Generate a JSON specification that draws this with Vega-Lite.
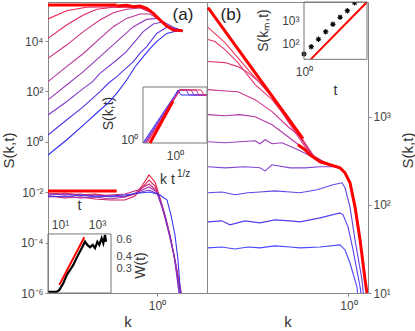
{
  "$schema": "https://vega.github.io/schema/vega-lite/v6.json",
  "padding": {"left": 0, "top": -3, "right": 0, "bottom": 0},
  "background": "white",
  "config": {
    "view": {"stroke": "#888", "strokeWidth": 1},
    "axis": {"labelFont": "Liberation Sans", "titleFont": "Liberation Sans", "labelFontSize": 12, "titleFontSize": 15, "titleFontWeight": "normal", "labelColor": "#444", "titleColor": "#333", "domainColor": "#888", "tickColor": "#888", "grid": false, "labelOverlap": false},
    "text": {"font": "Liberation Sans", "color": "#333"}
  },
  "spacing": 0,
  "bounds": "flush",
  "hconcat": [
    {
      "width": 159,
      "height": 291,
      "layer": [
        {
          "layer": [
            {
              "data": {"values": [
                {"c":"u2","k":0.1,"S":7.5e4},{"c":"u2","k":0.148,"S":1.6e5},{"c":"u2","k":0.226,"S":2.17e5},{"c":"u2","k":0.427,"S":2.3e5},{"c":"u2","k":0.748,"S":2.17e5},{"c":"u2","k":0.925,"S":1.25e5},{"c":"u2","k":1.227,"S":3.9e4},{"c":"u2","k":1.72,"S":2.57e4},
                {"c":"u3","k":0.1,"S":1.28e4},{"c":"u3","k":0.148,"S":4.3e4},{"c":"u3","k":0.211,"S":1.08e5},{"c":"u3","k":0.28,"S":1.81e5},{"c":"u3","k":0.397,"S":2.17e5},{"c":"u3","k":0.698,"S":2.2e5},{"c":"u3","k":0.925,"S":1.25e5},{"c":"u3","k":1.227,"S":3.9e4},{"c":"u3","k":1.72,"S":2.57e4},
                {"c":"u4","k":0.1,"S":2050},{"c":"u4","k":0.148,"S":6900},{"c":"u4","k":0.211,"S":2.35e4},{"c":"u4","k":0.3,"S":6.8e4},{"c":"u4","k":0.397,"S":1.33e5},{"c":"u4","k":0.527,"S":1.81e5},{"c":"u4","k":0.698,"S":2.04e5},{"c":"u4","k":0.925,"S":1.25e5},{"c":"u4","k":1.227,"S":3.9e4},{"c":"u4","k":1.72,"S":2.57e4},
                {"c":"u5","k":0.1,"S":243},{"c":"u5","k":0.148,"S":957},{"c":"u5","k":0.211,"S":3200},{"c":"u5","k":0.3,"S":1.28e4},{"c":"u5","k":0.397,"S":3.7e4},{"c":"u5","k":0.527,"S":7.9e4},{"c":"u5","k":0.698,"S":1.18e5},{"c":"u5","k":0.863,"S":1.18e5},{"c":"u5","k":1.066,"S":6.8e4},{"c":"u5","k":1.227,"S":3.9e4},{"c":"u5","k":1.72,"S":2.57e4},
                {"c":"u6","k":0.1,"S":46},{"c":"u6","k":0.148,"S":179},{"c":"u6","k":0.211,"S":607},{"c":"u6","k":0.3,"S":2400},{"c":"u6","k":0.427,"S":9400},{"c":"u6","k":0.607,"S":3.7e4},{"c":"u6","k":0.804,"S":7.2e4},{"c":"u6","k":0.993,"S":7.9e4},{"c":"u6","k":1.227,"S":4.3e4},{"c":"u6","k":1.413,"S":2.9e4},{"c":"u6","k":1.72,"S":2.57e4},
                {"c":"u7","k":0.1,"S":11.6},{"c":"u7","k":0.148,"S":39},{"c":"u7","k":0.211,"S":132},{"c":"u7","k":0.255,"S":240},{"c":"u7","k":0.3,"S":521},{"c":"u7","k":0.427,"S":1760},{"c":"u7","k":0.52,"S":3700},{"c":"u7","k":0.607,"S":8100},{"c":"u7","k":0.748,"S":2.35e4},{"c":"u7","k":0.925,"S":4.7e4},{"c":"u7","k":1.143,"S":5.8e4},{"c":"u7","k":1.413,"S":3.5e4},{"c":"u7","k":1.72,"S":2.57e4},
                {"c":"u8","k":0.1,"S":1.86},{"c":"u8","k":0.148,"S":7.3},{"c":"u8","k":0.211,"S":25},{"c":"u8","k":0.3,"S":98},{"c":"u8","k":0.36,"S":215},{"c":"u8","k":0.427,"S":385},{"c":"u8","k":0.607,"S":1510},{"c":"u8","k":0.7,"S":3300},{"c":"u8","k":0.804,"S":6000},{"c":"u8","k":0.993,"S":2.0e4},{"c":"u8","k":1.227,"S":3.5e4},{"c":"u8","k":1.514,"S":2.9e4},{"c":"u8","k":1.72,"S":2.57e4},
                {"c":"u9","k":0.1,"S":0.3},{"c":"u9","k":0.148,"S":1.18},{"c":"u9","k":0.211,"S":4.6},{"c":"u9","k":0.3,"S":18.3},{"c":"u9","k":0.36,"S":36},{"c":"u9","k":0.427,"S":84},{"c":"u9","k":0.527,"S":283},{"c":"u9","k":0.63,"S":950},{"c":"u9","k":0.748,"S":2400},{"c":"u9","k":0.87,"S":5200},{"c":"u9","k":0.993,"S":9400},{"c":"u9","k":1.227,"S":2.0e4},{"c":"u9","k":1.514,"S":2.5e4},{"c":"u9","k":1.72,"S":2.57e4},
                {"c":"l1","k":0.1,"S":0.00849},{"c":"l1","k":0.143,"S":0.00929},{"c":"l1","k":0.197,"S":0.00774},{"c":"l1","k":0.27,"S":0.00849},{"c":"l1","k":0.371,"S":0.00706},{"c":"l1","k":0.508,"S":0.00646},{"c":"l1","k":0.628,"S":0.00849},{"c":"l1","k":0.728,"S":0.0176},{"c":"l1","k":0.845,"S":0.0482},{"c":"l1","k":0.959,"S":0.0254},{"c":"l1","k":1.066,"S":0.00589},{"c":"l1","k":1.184,"S":0.00124},{"c":"l1","k":1.315,"S":0.0002},{"c":"l1","k":1.462,"S":1.7e-5},{"c":"l1","k":1.694,"S":5.3e-7},
                {"c":"l2","k":0.1,"S":0.00706},{"c":"l2","k":0.143,"S":0.00589},{"c":"l2","k":0.197,"S":0.00646},{"c":"l2","k":0.27,"S":0.00537},{"c":"l2","k":0.371,"S":0.0049},{"c":"l2","k":0.508,"S":0.0049},{"c":"l2","k":0.628,"S":0.00706},{"c":"l2","k":0.744,"S":0.0161},{"c":"l2","k":0.845,"S":0.0305},{"c":"l2","k":0.959,"S":0.0176},{"c":"l2","k":1.089,"S":0.00372},{"c":"l2","k":1.21,"S":0.000789},{"c":"l2","k":1.343,"S":0.000127},{"c":"l2","k":1.493,"S":1.29e-5},{"c":"l2","k":1.694,"S":5.3e-7},
                {"c":"l3","k":0.1,"S":0.00929},{"c":"l3","k":0.143,"S":0.00774},{"c":"l3","k":0.197,"S":0.00849},{"c":"l3","k":0.27,"S":0.00706},{"c":"l3","k":0.371,"S":0.00774},{"c":"l3","k":0.508,"S":0.00849},{"c":"l3","k":0.67,"S":0.0122},{"c":"l3","k":0.845,"S":0.0211},{"c":"l3","k":0.979,"S":0.0122},{"c":"l3","k":1.112,"S":0.00259},{"c":"l3","k":1.262,"S":0.000379},{"c":"l3","k":1.403,"S":5.08e-5},{"c":"l3","k":1.558,"S":5.18e-6},{"c":"l3","k":1.72,"S":5.3e-7},
                {"c":"l4","k":0.1,"S":0.00646},{"c":"l4","k":0.143,"S":0.00706},{"c":"l4","k":0.197,"S":0.00589},{"c":"l4","k":0.27,"S":0.00646},{"c":"l4","k":0.371,"S":0.00537},{"c":"l4","k":0.508,"S":0.00646},{"c":"l4","k":0.67,"S":0.0102},{"c":"l4","k":0.845,"S":0.0161},{"c":"l4","k":1.0,"S":0.0102},{"c":"l4","k":1.135,"S":0.00197},{"c":"l4","k":1.262,"S":0.000316},{"c":"l4","k":1.432,"S":3.22e-5},{"c":"l4","k":1.626,"S":5.3e-7},
                {"c":"l5","k":0.1,"S":0.00774},{"c":"l5","k":0.143,"S":0.00849},{"c":"l5","k":0.197,"S":0.00706},{"c":"l5","k":0.27,"S":0.00774},{"c":"l5","k":0.371,"S":0.00646},{"c":"l5","k":0.508,"S":0.00706},{"c":"l5","k":0.67,"S":0.00929},{"c":"l5","k":0.845,"S":0.0122},{"c":"l5","k":1.021,"S":0.00849},{"c":"l5","k":1.159,"S":0.00164},{"c":"l5","k":1.288,"S":0.000264},{"c":"l5","k":1.462,"S":2.04e-5},{"c":"l5","k":1.626,"S":5.3e-7},
                {"c":"l6","k":0.1,"S":0.00706},{"c":"l6","k":0.143,"S":0.00646},{"c":"l6","k":0.197,"S":0.00774},{"c":"l6","k":0.27,"S":0.00646},{"c":"l6","k":0.371,"S":0.00706},{"c":"l6","k":0.508,"S":0.00774},{"c":"l6","k":0.698,"S":0.00929},{"c":"l6","k":0.863,"S":0.0102},{"c":"l6","k":1.066,"S":0.00774},{"c":"l6","k":1.236,"S":0.0049},{"c":"l6","k":1.343,"S":0.00124},{"c":"l6","k":1.462,"S":0.0002},{"c":"l6","k":1.558,"S":2.04e-5},{"c":"l6","k":1.66,"S":5.3e-7}
              ]},
              "mark": {"type": "line", "strokeWidth": 1.1, "clip": true},
              "encoding": {
                "x": {"field": "k", "type": "quantitative", "scale": {"type": "log", "domain": [0.1, 2.875], "nice": false}, "axis": {"values": [1], "labelExpr": "'10⁰'", "title": "k", "tickSize": 3, "labelPadding": 4, "titlePadding": 3}},
                "y": {"field": "S", "type": "quantitative", "scale": {"type": "log", "domain": [1e-6, 3.53e5], "nice": false}, "axis": {"values": [1e-6, 1e-4, 0.01, 1, 100, 10000], "labelExpr": "datum.value < 1e-5 ? '10⁻⁶' : datum.value < 1e-3 ? '10⁻⁴' : datum.value < 0.1 ? '10⁻²' : datum.value < 10 ? '10⁰' : datum.value < 1000 ? '10²' : '10⁴'", "title": "S(k,t)", "tickSize": 3, "labelPadding": 2, "titleX": -40, "titleY": 148, "titleBaseline": "middle", "titleAlign": "center", "titleAngle": 270}},
                "color": {"field": "c", "type": "nominal", "legend": null, "scale": {"domain": ["u2","u3","u4","u5","u6","u7","u8","u9","l1","l2","l3","l4","l5","l6"], "range": ["#f22050","#e02868","#cc3080","#b43898","#9a3cb4","#7c3ccc","#5a34e4","#2f2cfa","#ec1838","#d8205c","#c42a80","#a432a8","#7836d0","#3c34f2"]}}
              }
            },
            {
              "data": {"values": [
                {"c":"refTop","k":0.1,"S":2.69e5},{"c":"refTop","k":0.427,"S":2.69e5},
                {"c":"refLow","k":0.1,"S":0.0112},{"c":"refLow","k":0.427,"S":0.0112},
                {"c":"hump","k":0.427,"S":2.45e5},{"c":"hump","k":0.527,"S":2.6e5},{"c":"hump","k":0.607,"S":2.3e5},{"c":"hump","k":0.698,"S":2.45e5},{"c":"hump","k":0.804,"S":1.98e5},{"c":"hump","k":0.925,"S":1.25e5},{"c":"hump","k":1.066,"S":6.8e4},{"c":"hump","k":1.227,"S":3.9e4},{"c":"hump","k":1.413,"S":2.7e4},{"c":"hump","k":1.72,"S":2.57e4}
              ]},
              "mark": {"type": "line", "color": "#ff0000", "strokeWidth": 3, "clip": true},
              "encoding": {"x": {"field": "k", "type": "quantitative"}, "y": {"field": "S", "type": "quantitative"}, "detail": {"field": "c", "type": "nominal"}}
            },
            {
              "data": {"values": [{}]},
              "mark": {"type": "text", "text": "(a)", "fontSize": 17, "color": "#222"},
              "encoding": {"x": {"datum": 1.73, "type": "quantitative"}, "y": {"datum": 1.07e5, "type": "quantitative"}}
            }
          ]
        },
        {
          "layer": [
            {
              "data": {"values": [
                {"c":"i0","k":0.316,"S":0.781},{"c":"i0","k":1.0,"S":40.5},{"c":"i0","k":1.114,"S":61.1},{"c":"i0","k":1.241,"S":40.5},{"c":"i0","k":3.162,"S":40.5},
                {"c":"i1","k":0.328,"S":0.781},{"c":"i1","k":1.036,"S":40.5},{"c":"i1","k":1.155,"S":61.1},{"c":"i1","k":1.485,"S":61.1},{"c":"i1","k":1.655,"S":40.5},{"c":"i1","k":3.162,"S":40.5},
                {"c":"i2","k":0.34,"S":0.781},{"c":"i2","k":1.036,"S":40.5},{"c":"i2","k":1.155,"S":61.1},{"c":"i2","k":1.778,"S":61.1},{"c":"i2","k":1.982,"S":40.5},{"c":"i2","k":3.162,"S":40.5},
                {"c":"i3","k":0.352,"S":0.781},{"c":"i3","k":1.074,"S":40.5},{"c":"i3","k":1.197,"S":61.1},{"c":"i3","k":2.129,"S":61.1},{"c":"i3","k":2.371,"S":40.5},{"c":"i3","k":3.162,"S":40.5},
                {"c":"i4","k":0.365,"S":0.781},{"c":"i4","k":1.074,"S":40.5},{"c":"i4","k":1.197,"S":61.1},{"c":"i4","k":2.548,"S":61.1},{"c":"i4","k":2.84,"S":40.5},{"c":"i4","k":3.162,"S":40.5}
              ]},
              "mark": {"type": "line", "strokeWidth": 1, "clip": true},
              "encoding": {
                "x": {"field": "k", "type": "quantitative", "scale": {"type": "log", "domain": [0.01037, 3.162], "nice": false}, "axis": {"orient": "bottom", "offset": -150, "values": [1], "labelExpr": "'10⁰'", "ticks": false, "domain": false, "labelPadding": 7, "title": "k t", "titleX": 119, "titleY": 36, "titleBaseline": "middle", "titleAlign": "center", "titleFontSize": 14}},
                "y": {"field": "S", "type": "quantitative", "scale": {"type": "log", "domain": [3.43e-6, 84900], "nice": false}, "axis": {"orient": "left", "offset": -95, "values": [1], "labelExpr": "'10⁰'", "ticks": false, "domain": false, "labelPadding": 5, "title": "S(k,t)", "titleX": -35, "titleY": 111, "titleBaseline": "middle", "titleAlign": "center", "titleAngle": 270, "titleFontSize": 14}},
                "color": {"field": "c", "type": "nominal", "legend": null, "scale": {"domain": ["i0","i1","i2","i3","i4"], "range": ["#3030ff","#6434e0","#9034c0","#bc3096","#e82858"]}}
              }
            },
            {
              "data": {"values": [{}]},
              "mark": {"type": "rect", "filled": false, "stroke": "#777", "strokeWidth": 1},
              "encoding": {"x": {"datum": 0.316, "type": "quantitative"}, "x2": {"datum": 3.162}, "y": {"datum": 0.781, "type": "quantitative"}, "y2": {"datum": 78.1}}
            },
            {
              "data": {"values": [{"c":"ref","k":0.407,"S":0.781},{"c":"ref","k":0.931,"S":24.7}]},
              "mark": {"type": "line", "color": "#ff0000", "strokeWidth": 3},
              "encoding": {"x": {"field": "k", "type": "quantitative"}, "y": {"field": "S", "type": "quantitative"}}
            },
            {
              "data": {"values": [{}]},
              "mark": {"type": "text", "text": "1/z", "fontSize": 10, "align": "left", "baseline": "middle"},
              "encoding": {"x": {"datum": 1.074, "type": "quantitative"}, "y": {"datum": 0.061, "type": "quantitative"}}
            }
          ]
        },
        {
          "layer": [
            {
              "data": {"values": [
                {"t":2.3,"W":0.173},{"t":6.6,"W":0.173},{"t":9.2,"W":0.181},{"t":15,"W":0.212},{"t":23,"W":0.259},{"t":35,"W":0.292},{"t":52,"W":0.33},{"t":86,"W":0.402},{"t":148,"W":0.492},{"t":224,"W":0.575},{"t":300,"W":0.532},{"t":420,"W":0.504},{"t":585,"W":0.532},{"t":780,"W":0.492},{"t":1050,"W":0.575},{"t":1330,"W":0.532},{"t":1780,"W":0.625},{"t":2190,"W":0.554},{"t":2700,"W":0.676},{"t":3080,"W":0.575}
              ]},
              "mark": {"type": "line", "color": "#000000", "strokeWidth": 2.2, "clip": true},
              "encoding": {
                "x": {"field": "t", "type": "quantitative", "scale": {"type": "log", "domain": [2.24, 8.8e8], "nice": false}, "axis": {"orient": "top", "offset": -232, "values": [10, 1000], "labelExpr": "datum.value < 100 ? '10¹' : '10³'", "ticks": false, "domain": false, "labelPadding": 3, "title": "t", "titleX": 31, "titleY": -29, "titleBaseline": "middle", "titleAlign": "center", "titleFontSize": 14}},
                "y": {"field": "W", "type": "quantitative", "scale": {"type": "log", "domain": [0.168, 181], "nice": false}, "axis": {"orient": "right", "offset": -96, "values": [0.3, 0.4, 0.6], "labelExpr": "format(datum.value, '.1f')", "labelOverlap": false, "labelFontSize": 11, "ticks": false, "domain": false, "labelPadding": 5, "title": "W(t)", "titleX": 29, "titleY": 263, "titleBaseline": "middle", "titleAlign": "center", "titleAngle": 270, "titleFontSize": 14}}
              }
            },
            {
              "data": {"values": [{"t":9.2,"W":0.204},{"t":206,"W":0.64}]},
              "mark": {"type": "line", "color": "#ff0000", "strokeWidth": 2},
              "encoding": {"x": {"field": "t", "type": "quantitative"}, "y": {"field": "W", "type": "quantitative"}}
            },
            {
              "data": {"values": [{}]},
              "mark": {"type": "rect", "filled": false, "stroke": "#777", "strokeWidth": 1},
              "encoding": {"x": {"datum": 2.24, "type": "quantitative"}, "x2": {"datum": 5710}, "y": {"datum": 0.168, "type": "quantitative"}, "y2": {"datum": 0.693}}
            }
          ]
        }
      ],
      "resolve": {"scale": {"x": "independent", "y": "independent", "color": "independent"}, "axis": {"x": "independent", "y": "independent"}}
    },
    {
      "width": 161,
      "height": 291,
      "layer": [
        {
          "layer": [
            {
              "data": {"values": [
                {"c":"b1","k":0.152,"S":10300},{"c":"b1","k":0.191,"S":6930},{"c":"b1","k":0.26,"S":3420},{"c":"b1","k":0.359,"S":1690},{"c":"b1","k":0.445,"S":1000},{"c":"b1","k":0.558,"S":507},{"c":"b1","k":0.638,"S":342},{"c":"b1","k":0.782,"S":285},{"c":"b1","k":0.893,"S":263},{"c":"b1","k":0.955,"S":231},{"c":"b1","k":1.021,"S":178},{"c":"b1","k":1.092,"S":94.9},{"c":"b1","k":1.169,"S":40},{"c":"b1","k":1.25,"S":14.1},{"c":"b1","k":1.3,"S":8.3},
                {"c":"b2","k":0.152,"S":7500},{"c":"b2","k":0.167,"S":7110},{"c":"b2","k":0.191,"S":5770},{"c":"b2","k":0.227,"S":4110},{"c":"b2","k":0.286,"S":2310},{"c":"b2","k":0.359,"S":1560},{"c":"b2","k":0.445,"S":925},{"c":"b2","k":0.558,"S":481},{"c":"b2","k":0.638,"S":342},{"c":"b2","k":0.782,"S":285},{"c":"b2","k":0.893,"S":263},{"c":"b2","k":0.955,"S":231},{"c":"b2","k":1.021,"S":178},{"c":"b2","k":1.092,"S":94.9},{"c":"b2","k":1.169,"S":40},{"c":"b2","k":1.25,"S":14.1},{"c":"b2","k":1.3,"S":8.3},
                {"c":"b3","k":0.152,"S":4220},{"c":"b3","k":0.191,"S":4110},{"c":"b3","k":0.227,"S":3700},{"c":"b3","k":0.26,"S":3160},{"c":"b3","k":0.305,"S":2430},{"c":"b3","k":0.359,"S":1690},{"c":"b3","k":0.445,"S":877},{"c":"b3","k":0.558,"S":456},{"c":"b3","k":0.638,"S":342},{"c":"b3","k":0.782,"S":285},{"c":"b3","k":0.893,"S":263},{"c":"b3","k":0.955,"S":231},{"c":"b3","k":1.021,"S":178},{"c":"b3","k":1.092,"S":94.9},{"c":"b3","k":1.169,"S":40},{"c":"b3","k":1.25,"S":14.1},{"c":"b3","k":1.3,"S":8.3},
                {"c":"b4","k":0.152,"S":2030},{"c":"b4","k":0.183,"S":1970},{"c":"b4","k":0.227,"S":1920},{"c":"b4","k":0.286,"S":1560},{"c":"b4","k":0.359,"S":1140},{"c":"b4","k":0.445,"S":769},{"c":"b4","k":0.522,"S":593},{"c":"b4","k":0.614,"S":370},{"c":"b4","k":0.731,"S":300},{"c":"b4","k":0.893,"S":263},{"c":"b4","k":0.955,"S":231},{"c":"b4","k":1.021,"S":178},{"c":"b4","k":1.092,"S":94.9},{"c":"b4","k":1.169,"S":40},{"c":"b4","k":1.25,"S":14.1},{"c":"b4","k":1.3,"S":8.3},
                {"c":"b5","k":0.152,"S":1055},{"c":"b5","k":0.191,"S":1026},{"c":"b5","k":0.233,"S":1055},{"c":"b5","k":0.286,"S":1000},{"c":"b5","k":0.359,"S":811},{"c":"b5","k":0.445,"S":593},{"c":"b5","k":0.558,"S":422},{"c":"b5","k":0.638,"S":342},{"c":"b5","k":0.782,"S":285},{"c":"b5","k":0.893,"S":263},{"c":"b5","k":0.955,"S":231},{"c":"b5","k":1.021,"S":178},{"c":"b5","k":1.092,"S":94.9},{"c":"b5","k":1.169,"S":40},{"c":"b5","k":1.25,"S":14.1},{"c":"b5","k":1.3,"S":8.3},
                {"c":"b6","k":0.152,"S":520},{"c":"b6","k":0.191,"S":507},{"c":"b6","k":0.233,"S":520},{"c":"b6","k":0.286,"S":533},{"c":"b6","k":0.305,"S":493},{"c":"b6","k":0.327,"S":548},{"c":"b6","k":0.359,"S":493},{"c":"b6","k":0.41,"S":507},{"c":"b6","k":0.508,"S":422},{"c":"b6","k":0.614,"S":351},{"c":"b6","k":0.731,"S":300},{"c":"b6","k":0.893,"S":263},{"c":"b6","k":0.955,"S":231},{"c":"b6","k":1.021,"S":178},{"c":"b6","k":1.092,"S":94.9},{"c":"b6","k":1.169,"S":40},{"c":"b6","k":1.25,"S":14.1},{"c":"b6","k":1.3,"S":8.3},
                {"c":"b7","k":0.152,"S":270},{"c":"b7","k":0.191,"S":263},{"c":"b7","k":0.25,"S":270},{"c":"b7","k":0.305,"S":263},{"c":"b7","k":0.327,"S":243},{"c":"b7","k":0.359,"S":285},{"c":"b7","k":0.457,"S":263},{"c":"b7","k":0.558,"S":263},{"c":"b7","k":0.684,"S":270},{"c":"b7","k":0.813,"S":270},{"c":"b7","k":0.893,"S":263},{"c":"b7","k":0.955,"S":231},{"c":"b7","k":1.021,"S":178},{"c":"b7","k":1.092,"S":94.9},{"c":"b7","k":1.169,"S":40},{"c":"b7","k":1.25,"S":14.1},{"c":"b7","k":1.3,"S":8.3},
                {"c":"b8","k":0.152,"S":137},{"c":"b8","k":0.183,"S":140},{"c":"b8","k":0.218,"S":130},{"c":"b8","k":0.26,"S":137},{"c":"b8","k":0.305,"S":140},{"c":"b8","k":0.373,"S":144},{"c":"b8","k":0.457,"S":140},{"c":"b8","k":0.522,"S":137},{"c":"b8","k":0.656,"S":148},{"c":"b8","k":0.813,"S":169},{"c":"b8","k":0.918,"S":178},{"c":"b8","k":0.955,"S":156},{"c":"b8","k":1.021,"S":94.9},{"c":"b8","k":1.092,"S":40},{"c":"b8","k":1.2,"S":14.1},{"c":"b8","k":1.233,"S":8.3},
                {"c":"b9","k":0.152,"S":64.1},{"c":"b9","k":0.183,"S":65.8},{"c":"b9","k":0.204,"S":59.3},{"c":"b9","k":0.25,"S":65.8},{"c":"b9","k":0.305,"S":62.4},{"c":"b9","k":0.373,"S":67.6},{"c":"b9","k":0.457,"S":65.8},{"c":"b9","k":0.522,"S":64.1},{"c":"b9","k":0.684,"S":71.1},{"c":"b9","k":0.893,"S":81},{"c":"b9","k":0.93,"S":76.9},{"c":"b9","k":0.995,"S":56.2},{"c":"b9","k":1.064,"S":30.8},{"c":"b9","k":1.169,"S":11.7},{"c":"b9","k":1.2,"S":8.3},
                {"c":"b10","k":0.152,"S":32.5},{"c":"b10","k":0.183,"S":33.3},{"c":"b10","k":0.218,"S":31.6},{"c":"b10","k":0.26,"S":33.3},{"c":"b10","k":0.305,"S":32.5},{"c":"b10","k":0.373,"S":34.2},{"c":"b10","k":0.457,"S":33.3},{"c":"b10","k":0.522,"S":32.5},{"c":"b10","k":0.684,"S":33.3},{"c":"b10","k":0.893,"S":35.1},{"c":"b10","k":0.955,"S":30.8},{"c":"b10","k":1.021,"S":21.9},{"c":"b10","k":1.122,"S":11.7},{"c":"b10","k":1.138,"S":8.3}
              ]},
              "mark": {"type": "line", "strokeWidth": 1.1, "clip": true},
              "encoding": {
                "x": {"field": "k", "type": "quantitative", "scale": {"type": "log", "domain": [0.15, 1.3], "nice": false}, "axis": {"values": [1], "labelExpr": "'10⁰'", "title": "k", "tickSize": 3, "labelPadding": 4, "titlePadding": 3}},
                "y": {"field": "S", "type": "quantitative", "scale": {"type": "log", "domain": [10, 20000], "nice": false}, "axis": {"orient": "right", "values": [10, 100, 1000], "labelExpr": "datum.value < 50 ? '10¹' : datum.value < 500 ? '10²' : '10³'", "title": "S(k,t)", "tickSize": 3, "labelPadding": 2, "titleX": 39, "titleY": 148, "titleBaseline": "middle", "titleAlign": "center", "titleAngle": 270}},
                "color": {"field": "c", "type": "nominal", "legend": null, "scale": {"domain": ["b1","b2","b3","b4","b5","b6","b7","b8","b9","b10"], "range": ["#f23a5a","#ea3566","#da3478","#c8358e","#b038a6","#9a40be","#8246d4","#6642e6","#5040f2","#4a46fc"]}}
              }
            },
            {
              "data": {"values": [
                {"c":"ref","k":0.152,"S":17300},{"c":"ref","k":0.543,"S":562},
                {"c":"hump","k":0.508,"S":481},{"c":"hump","k":0.558,"S":422},{"c":"hump","k":0.597,"S":370},{"c":"hump","k":0.684,"S":308},{"c":"hump","k":0.782,"S":285},{"c":"hump","k":0.893,"S":263},{"c":"hump","k":0.955,"S":231},{"c":"hump","k":1.021,"S":178},{"c":"hump","k":1.092,"S":94.9},{"c":"hump","k":1.169,"S":40},{"c":"hump","k":1.25,"S":14.1},{"c":"hump","k":1.3,"S":8.3}
              ]},
              "mark": {"type": "line", "color": "#ff0000", "strokeWidth": 3, "clip": true},
              "encoding": {"x": {"field": "k", "type": "quantitative"}, "y": {"field": "S", "type": "quantitative"}, "detail": {"field": "c", "type": "nominal"}}
            },
            {
              "data": {"values": [{}]},
              "mark": {"type": "text", "text": "(b)", "fontSize": 17, "color": "#222"},
              "encoding": {"x": {"datum": 0.207, "type": "quantitative"}, "y": {"datum": 14400, "type": "quantitative"}}
            }
          ]
        },
        {
          "layer": [
            {
              "data": {"values": [{"t":1,"S":33.3},{"t":2,"S":69},{"t":4,"S":145},{"t":8,"S":310},{"t":16,"S":650},{"t":32,"S":1310},{"t":64,"S":2540},{"t":128,"S":5650}]},
              "mark": {"type": "point", "shape": "M-1,0L1,0M0,-1L0,1M-0.7,-0.7L0.7,0.7M-0.7,0.7L0.7,-0.7", "filled": false, "stroke": "#000000", "strokeWidth": 1.1, "size": 30, "opacity": 1, "clip": true},
              "encoding": {
                "x": {"field": "t", "type": "quantitative", "scale": {"type": "log", "domain": [9.08e-5, 464], "nice": false}, "axis": {"orient": "bottom", "offset": -234, "values": [1], "labelExpr": "'10⁰'", "ticks": false, "domain": false, "labelPadding": 7, "title": "t", "titleX": 128, "titleY": 31, "titleBaseline": "middle", "titleAlign": "center", "titleFontSize": 14}},
                "y": {"field": "S", "type": "quantitative", "scale": {"type": "log", "domain": [1.35e-9, 6070], "nice": false}, "axis": {"orient": "left", "offset": -97, "values": [100, 1000], "labelExpr": "datum.value < 500 ? '10²' : '10³'", "ticks": false, "domain": false, "labelPadding": 5, "title": "S(kₘ,t)", "titleX": -41, "titleY": 28, "titleBaseline": "middle", "titleAlign": "center", "titleAngle": 270, "titleFontSize": 14}}
              }
            },
            {
              "data": {"values": [{"t":1.9,"S":19.5},{"t":422,"S":6050}]},
              "mark": {"type": "line", "color": "#ff0000", "strokeWidth": 2},
              "encoding": {"x": {"field": "t", "type": "quantitative"}, "y": {"field": "S", "type": "quantitative"}}
            },
            {
              "data": {"values": [{}]},
              "mark": {"type": "rect", "filled": false, "stroke": "#777", "strokeWidth": 1},
              "encoding": {"x": {"datum": 1, "type": "quantitative"}, "x2": {"datum": 422}, "y": {"datum": 19.5, "type": "quantitative"}, "y2": {"datum": 6070}}
            }
          ]
        }
      ],
      "resolve": {"scale": {"x": "independent", "y": "independent", "color": "independent"}, "axis": {"x": "independent", "y": "independent"}}
    }
  ]
}
